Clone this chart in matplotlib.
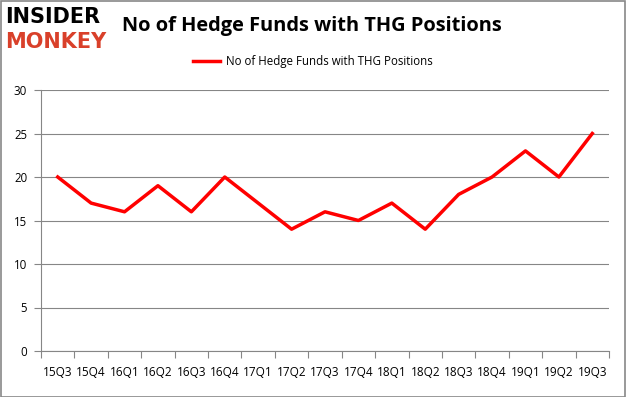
import matplotlib
matplotlib.use("Agg")
import matplotlib.pyplot as plt
import numpy as np

quarters = ["15Q3", "15Q4", "16Q1", "16Q2", "16Q3", "16Q4", "17Q1", "17Q2", "17Q3",
            "17Q4", "18Q1", "18Q2", "18Q3", "18Q4", "19Q1", "19Q2", "19Q3"]
funds = [20, 17, 16, 19, 16, 20, 17, 14, 16, 15, 17, 14, 18, 20, 23, 20, 25]
yticks = [0, 5, 10, 15, 20, 25, 30]
series_name = "No of Hedge Funds with THG Positions"

plt.rcParams['font.family'] = ['Open Sans', 'DejaVu Sans']

fig = plt.figure(figsize=(6.26, 3.97), dpi=100)
ax = fig.add_axes([41/626, 1-351/397, (609-41)/626, (351-90)/397])

x = np.arange(len(quarters))
line, = ax.plot(x, funds, color='#ff0000', lw=2.5, label=series_name)

ax.set_xlim(-0.5, len(quarters) - 0.5)
ax.set_ylim(0, 30)
ax.set_yticks(yticks)
ax.set_yticklabels([str(v) for v in yticks], fontsize=8.3)
ax.grid(axis='y', color='#868686', lw=0.8)
ax.set_axisbelow(True)

ax.set_xticks(np.arange(-0.5, len(quarters), 1.0))
ax.set_xticklabels([])
ax.set_xticks(x, minor=True)
ax.set_xticklabels(quarters, minor=True, fontsize=8.5)
ax.tick_params(axis='x', which='major', length=5, color='#868686', direction='out')
ax.tick_params(axis='x', which='minor', length=0, pad=11)
ax.tick_params(axis='y', length=5, color='#868686', pad=5)

for s in ['top', 'right']:
    ax.spines[s].set_visible(False)
for s in ['left', 'bottom']:
    ax.spines[s].set_color('#868686')
    ax.spines[s].set_linewidth(0.8)

fig.text(0.499, 0.935, series_name, ha='center', va='center', fontsize=14.4, fontweight='bold')

fig.legend(handles=[line], loc='center', bbox_to_anchor=(0.5, 1-62/397), frameon=False,
           fontsize=8.3, handlelength=2.3, handletextpad=0.5)

fig.text(0.008, 0.958, "INSIDER", fontsize=15, fontweight='bold', color='black',
         family=['DejaVu Sans'], va='center', ha='left')
fig.text(0.008, 0.895, "MONKEY", fontsize=15, fontweight='bold', color='#d9402a',
         family=['DejaVu Sans'], va='center', ha='left')

border = plt.Rectangle((0.001, 0.001), 0.998, 0.997, transform=fig.transFigure,
                       fill=False, edgecolor='#888888', lw=1.2)
fig.patches.append(border)

fig.savefig("out.png", dpi=100)
